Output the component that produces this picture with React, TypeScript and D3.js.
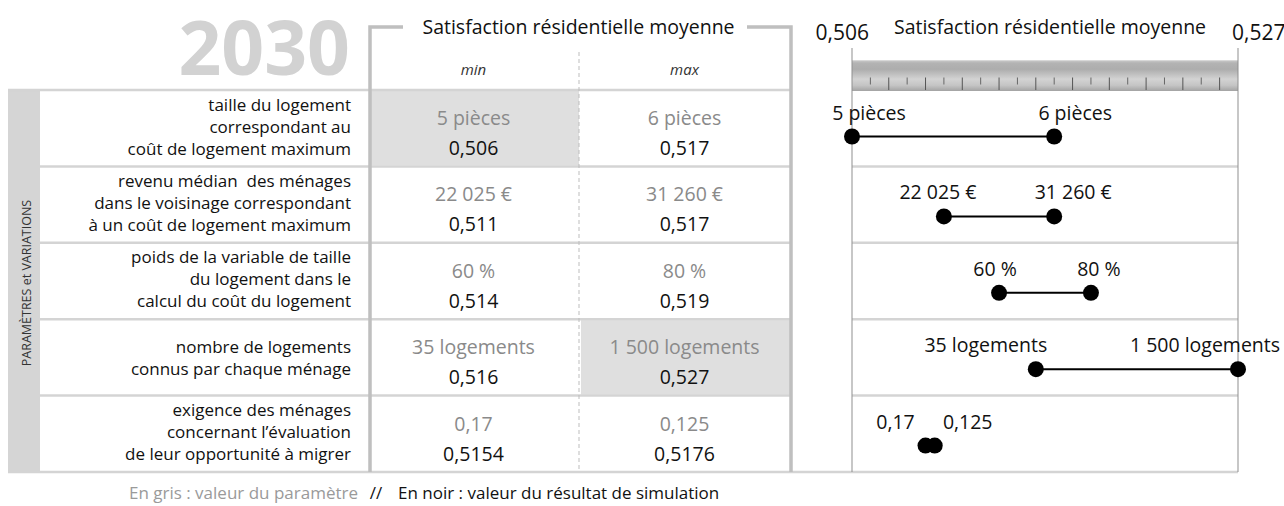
import React from "react";
import * as d3 from "d3";

// ---------- data ----------
const YEAR = "2030";
const TITLE = "Satisfaction résidentielle moyenne";
const COLUMN_HEADERS = ["min", "max"];
const SIDE_LABEL = "PARAMÈTRES et VARIATIONS";
const PARAM_LABELS: string[][] = [
  ["taille du logement", "correspondant au", "coût de logement maximum"],
  ["revenu médian  des ménages", "dans le voisinage correspondant", "à un coût de logement maximum"],
  ["poids de la variable de taille", "du logement dans le", "calcul du coût du logement"],
  ["nombre de logements", "connus par chaque ménage"],
  ["exigence des ménages", "concernant l’évaluation", "de leur opportunité à migrer"],
];
const MIN_PARAM = ["5 pièces", "22 025 €", "60 %", "35 logements", "0,17"];
const MAX_PARAM = ["6 pièces", "31 260 €", "80 %", "1 500 logements", "0,125"];
const MIN_RESULT = ["0,506", "0,511", "0,514", "0,516", "0,5154"];
const MAX_RESULT = ["0,517", "0,517", "0,519", "0,527", "0,5176"];
// positions of the dots as drawn on the right-hand scale
const MIN_PLOTTED = [0.506, 0.511, 0.514, 0.516, 0.51];
const MAX_PLOTTED = [0.517, 0.517, 0.519, 0.527, 0.5105];
const AXIS_DOMAIN: [number, number] = [0.506, 0.527];
const AXIS_LABELS = ["0,506", "0,527"];
const EXTREME_CELLS = [
  { row: 0, col: "min" },
  { row: 3, col: "max" },
];
const FOOTER = ["En gris : valeur du paramètre", "//", "En noir : valeur du résultat de simulation"];

// ---------- layout (not data) ----------
const W = 1284;
const H = 506;
const FONT = "'Open Sans', 'Noto Sans', sans-serif";
const MIN_LABEL_DX = [17, -6, -4, -50, -30];
const MAX_LABEL_DX = [21, 19, 8, -33, 33];

export default function App() {
  const rowIdx = d3.range(PARAM_LABELS.length);
  const y = d3.scaleBand<number>().domain(rowIdx).range([90, 472]).padding(0);
  const col = d3.scaleBand<string>().domain(COLUMN_HEADERS).range([368, 790]).padding(0);
  const x = d3.scaleLinear().domain(AXIS_DOMAIN).range([852, 1238]);
  const ticks = x.ticks(21);
  const rh = y.bandwidth();
  const lineColor = "#d4d4d4";
  const bracket = "#bfbfbf";

  return (
    <svg
      width={W}
      height={H}
      viewBox={`0 0 ${W} ${H}`}
      style={{ position: "absolute", left: 0, top: 0, background: "#fff" }}
      fontFamily={FONT}
    >
      <defs>
        <linearGradient id="ruler" x1="0" y1="0" x2="0" y2="1">
          <stop offset="0" stopColor="#cdcdcd" />
          <stop offset="0.1" stopColor="#b3b3b3" />
          <stop offset="0.3" stopColor="#adadad" />
          <stop offset="0.62" stopColor="#d3d3d3" />
          <stop offset="0.82" stopColor="#c4c4c4" />
          <stop offset="1" stopColor="#a3a3a3" />
        </linearGradient>
      </defs>

      {/* year */}
      <text x={350} y={75} textAnchor="end" fontSize={75} fontWeight={700} fill="#d2d2d2">
        {YEAR}
      </text>

      {/* side strip */}
      <rect x={8} y={90} width={32} height={382} fill="#d5d5d5" />
      <text
        transform={`translate(31,${(90 + 472) / 2 + 2}) rotate(-90)`}
        textAnchor="middle"
        fontSize={12.5}
        fill="#333"
      >
        {SIDE_LABEL}
      </text>

      {/* highlighted extreme cells */}
      {EXTREME_CELLS.map((c, i) => (
        <rect
          key={i}
          x={col(c.col)! + 2}
          y={y(c.row)! + 1}
          width={col.bandwidth() - 2}
          height={rh - 2}
          fill="#dfdfdf"
        />
      ))}

      {/* header line */}
      <line x1={8} x2={790} y1={90} y2={90} stroke={lineColor} strokeWidth={2.5} />
      {/* row separators in table */}
      {rowIdx.slice(1).map((r) => (
        <line key={r} x1={40} x2={790} y1={y(r)!} y2={y(r)!} stroke={lineColor} strokeWidth={2.5} />
      ))}
      {/* row separators in chart */}
      {rowIdx.slice(1).map((r) => (
        <line key={"c" + r} x1={852} x2={1238} y1={y(r)!} y2={y(r)!} stroke={lineColor} strokeWidth={2.5} />
      ))}
      {/* bottom line */}
      <line x1={8} x2={1238} y1={472} y2={472} stroke={lineColor} strokeWidth={2.5} />

      {/* dashed column divider */}
      <line
        x1={col("max")!}
        x2={col("max")!}
        y1={52}
        y2={472}
        stroke="#bdbdbd"
        strokeWidth={1}
        strokeDasharray="4,3"
      />

      {/* bracket */}
      <path d={`M403,27 H370 V472`} fill="none" stroke={bracket} strokeWidth={3.5} />
      <path d={`M747,27 H791 V472`} fill="none" stroke={bracket} strokeWidth={3.5} />
      <text x={578.5} y={34} textAnchor="middle" fontSize={19.5} fill="#111">
        {TITLE}
      </text>

      {/* column headers */}
      {COLUMN_HEADERS.map((h) => (
        <text
          key={h}
          x={col(h)! + col.bandwidth() / 2}
          y={75}
          textAnchor="middle"
          fontSize={15}
          fontStyle="italic"
          fill="#333"
        >
          {h}
        </text>
      ))}

      {/* parameter labels */}
      {PARAM_LABELS.map((lines, r) =>
        lines.map((t, k) => (
          <text
            key={r + "-" + k}
            x={351}
            y={y(r)! + (lines.length === 3 ? 42.5 : 44.5) + (k - (lines.length - 1) / 2) * 22}
            textAnchor="end"
            fontSize={17}
            fill="#111"
            style={{ whiteSpace: "pre" }}
          >
            {t}
          </text>
        ))
      )}

      {/* table values */}
      {rowIdx.map((r) => (
        <g key={"v" + r} fontSize={19.5} textAnchor="middle">
          <text x={col("min")! + col.bandwidth() / 2} y={y(r)! + 35} fill="#8a8a8a">
            {MIN_PARAM[r]}
          </text>
          <text x={col("max")! + col.bandwidth() / 2} y={y(r)! + 35} fill="#8a8a8a">
            {MAX_PARAM[r]}
          </text>
          <text x={col("min")! + col.bandwidth() / 2} y={y(r)! + 65} fill="#111">
            {MIN_RESULT[r]}
          </text>
          <text x={col("max")! + col.bandwidth() / 2} y={y(r)! + 65} fill="#111">
            {MAX_RESULT[r]}
          </text>
        </g>
      ))}

      {/* right chart title and axis labels */}
      <text x={1050} y={34} textAnchor="middle" fontSize={19.5} fill="#111">
        {TITLE}
      </text>
      <text x={x(AXIS_DOMAIN[0]) + 17} y={40} textAnchor="end" fontSize={21} fill="#111">
        {AXIS_LABELS[0]}
      </text>
      <text x={x(AXIS_DOMAIN[1]) - 6} y={40} textAnchor="start" fontSize={21} fill="#111">
        {AXIS_LABELS[1]}
      </text>

      {/* ruler */}
      <rect x={x(AXIS_DOMAIN[0])} y={60} width={x(AXIS_DOMAIN[1]) - x(AXIS_DOMAIN[0])} height={31} fill="url(#ruler)" />
      <line x1={x(AXIS_DOMAIN[0])} x2={x(AXIS_DOMAIN[1])} y1={60.5} y2={60.5} stroke="#d8d8d8" strokeWidth={1} />
      {ticks.slice(1, -1).map((t, i) => {
        const long = (i + 1) % 2 === 0;
        return (
          <line
            key={i}
            x1={x(t)}
            x2={x(t)}
            y1={77.5}
            y2={long ? 90 : 84.5}
            stroke={long ? "#555" : "#666"}
            strokeWidth={1}
          />
        );
      })}

      {/* chart vertical bounds */}
      <line x1={852} x2={852} y1={48} y2={472} stroke="#8f8f8f" strokeWidth={1} />
      <line x1={1238} x2={1238} y1={48} y2={472} stroke="#8f8f8f" strokeWidth={1} />

      {/* dumbbells */}
      {rowIdx.map((r) => {
        const cy = y(r)! + (r === 0 ? 46.5 : 50);
        const ly = y(r)! + (r === 0 ? 29.5 : 33);
        const x0 = x(MIN_PLOTTED[r]);
        const x1 = x(MAX_PLOTTED[r]);
        return (
          <g key={"d" + r}>
            <line x1={x0} x2={x1} y1={cy} y2={cy} stroke="#000" strokeWidth={2} />
            <circle cx={x0} cy={cy} r={8} fill="#000" />
            <circle cx={x1} cy={cy} r={8} fill="#000" />
            <text x={x0 + MIN_LABEL_DX[r]} y={ly} textAnchor="middle" fontSize={19.5} fill="#111">
              {MIN_PARAM[r]}
            </text>
            <text x={x1 + MAX_LABEL_DX[r]} y={ly} textAnchor="middle" fontSize={19.5} fill="#111">
              {MAX_PARAM[r]}
            </text>
          </g>
        );
      })}

      {/* footer */}
      <text x={358} y={499} textAnchor="end" fontSize={17} fill="#9a9a9a">
        {FOOTER[0]}
      </text>
      <text x={376} y={499} textAnchor="middle" fontSize={17} fill="#111">
        {FOOTER[1]}
      </text>
      <text x={398} y={499} fontSize={17} fill="#111">
        {FOOTER[2]}
      </text>
    </svg>
  );
}
